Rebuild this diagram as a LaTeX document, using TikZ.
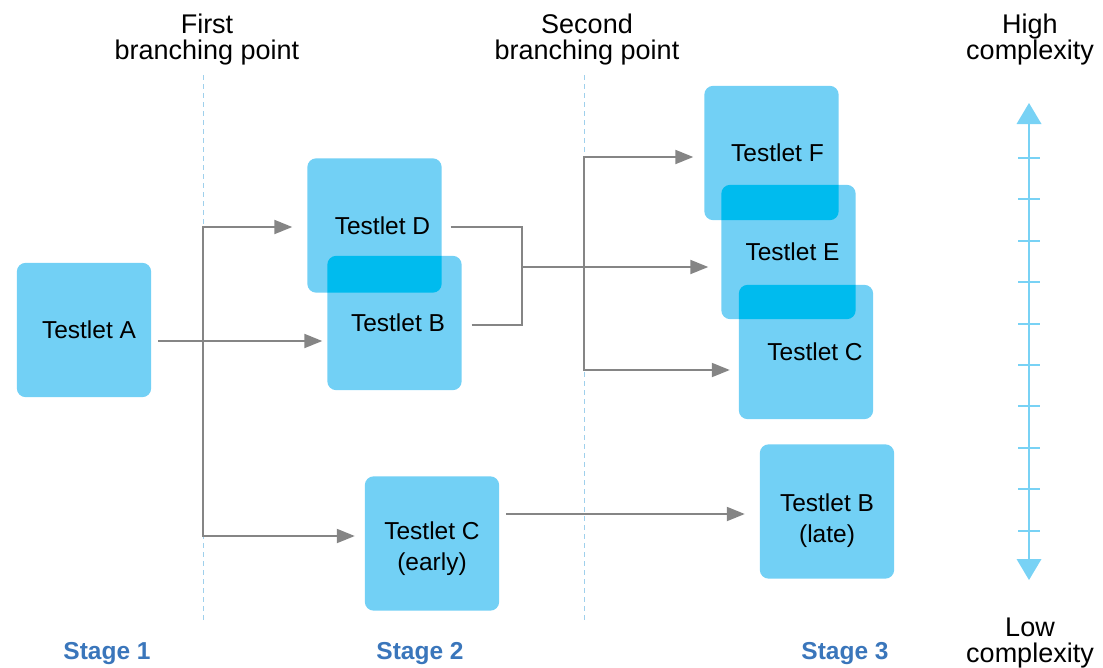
\documentclass[tikz,border=0pt]{standalone}
\usepackage{fontspec}
\setmainfont{Liberation Sans}
\usetikzlibrary{arrows.meta,backgrounds}
\definecolor{boxblue}{HTML}{72D0F5}
\definecolor{ovblue}{HTML}{00BBEE}
\definecolor{arrgray}{HTML}{858585}
\definecolor{dashblue}{HTML}{9FD0EC}
\definecolor{stageblue}{HTML}{3A76BB}
\definecolor{scaleblue}{HTML}{78D2F5}
\newcommand\tsh[1]{\hspace*{#1}}
\begin{document}
\begin{tikzpicture}[x=1pt,y=-1pt,
 testlet/.style={minimum width=134pt,minimum height=134pt,inner sep=0pt,align=center,font=\fontsize{24.5}{31}\selectfont},
 boxfill/.style={fill=boxblue,rounded corners=9pt},
 ovfill/.style={fill=ovblue,rounded corners=9pt},
 arr/.style={draw=arrgray,line width=2pt,-{Triangle[length=18pt,width=14pt]}},
 ln/.style={draw=arrgray,line width=2pt},
 sep/.style={draw=dashblue,line width=1pt,dash pattern=on 5pt off 4pt},
 lbl/.style={align=center,font=\fontsize{27}{25.5}\selectfont},
 stage/.style={text=stageblue,font=\bfseries\fontsize{24.5}{24.5}\selectfont},
 scl/.style={draw=scaleblue,line width=2.7pt},
 tick/.style={draw=scaleblue,line width=2.2pt}]
\useasboundingbox (0,0) rectangle (1103,667);

% testlets
\node[testlet] (A) at (84,330) {\tsh{10pt}Testlet A};
\node[testlet] (D) at (374.5,225.5) {\tsh{16pt}Testlet D};
\node[testlet] (B) at (394.5,323) {\tsh{7pt}Testlet B};
\node[testlet] (Ce) at (432,543.5) {\rule{0pt}{28pt}Testlet C\\(early)};
\node[testlet] (F) at (771.5,153) {\tsh{12pt}Testlet F};
\node[testlet] (E) at (788.5,252) {\tsh{8pt}Testlet E};
\node[testlet] (C) at (806,352) {\tsh{18pt}Testlet C};
\node[testlet] (Bl) at (827,511.5) {\rule{0pt}{36pt}Testlet B\\(late)};

\begin{scope}[on background layer]
  \draw[sep] (203,75) -- (203,620);
  \draw[sep] (584,75) -- (584,620);
  \foreach \n in {A,D,B,Ce,F,E,C,Bl}
    \path[boxfill] (\n.north west) rectangle (\n.south east);
  \begin{scope}
    \clip[rounded corners=9pt] (D.north west) rectangle (D.south east);
    \path[ovfill] (B.north west) rectangle (B.south east);
  \end{scope}
  \begin{scope}
    \clip[rounded corners=9pt] (F.north west) rectangle (F.south east);
    \path[ovfill] (E.north west) rectangle (E.south east);
  \end{scope}
  \begin{scope}
    \clip[rounded corners=9pt] (E.north west) rectangle (E.south east);
    \path[ovfill] (C.north west) rectangle (C.south east);
  \end{scope}
\end{scope}

% junctions
\coordinate (j1) at (203,341);
\coordinate (j1t) at (203,227);
\coordinate (j1b) at (203,536);
\coordinate (k) at (522,267);
\coordinate (j2t) at (584,157);
\coordinate (j2b) at (584,370);
\coordinate (m) at (506,514);

% connectors
\draw[arr] ([xshift=7pt]A.east |- j1) -- ([xshift=-5pt]B.west |- j1);
\draw[arr] (j1) -- (j1t) -- ([xshift=-15pt]D.west |- j1t);
\draw[arr] (j1) -- (j1b) -- ([xshift=-10pt]Ce.west |- j1b);
\draw[ln] ([xshift=9pt,yshift=-1.5pt]D.east) -| (k);
\draw[ln] ([xshift=10pt,yshift=-2pt]B.east) -| (k);
\draw[arr] (k) -- ([xshift=-13pt]E.west |- k);
\draw[arr] (j2b) -- (j2t) -- ([xshift=-11pt]F.west |- j2t);
\draw[arr] (j2t) |- ([xshift=-9pt]C.west |- j2b);
\draw[arr] (m) -- ([xshift=-15pt]Bl.west |- m);

% complexity scale
\coordinate (st) at (1029,103);
\coordinate (sb) at (1029,580);
\draw[scl] (1029,120) -- (1029,565);
\fill[scaleblue] (st) -- (1041.5,124) -- (1016.5,124) -- cycle;
\fill[scaleblue] (sb) -- (1041.5,559) -- (1016.5,559) -- cycle;
\foreach \y in {157.7,199,240.7,282,323.7,365,406.3,448,489.3,531}
  \draw[tick] (1018,\y) -- (1040,\y);

% labels
\node[lbl] (fb) at (207,39.5) {First\\branching point};
\node[lbl] (sbp) at (587,39.5) {Second\\branching point};
\node[lbl] (hc) at (1030,39.5) {High\\complexity};
\node[lbl] (lc) at (1030,643) {Low\\complexity};
\node[stage] (s1) at (107,654) {Stage 1};
\node[stage] (s2) at (420,654) {Stage 2};
\node[stage] (s3) at (845,654) {Stage 3};
\end{tikzpicture}
\end{document}
